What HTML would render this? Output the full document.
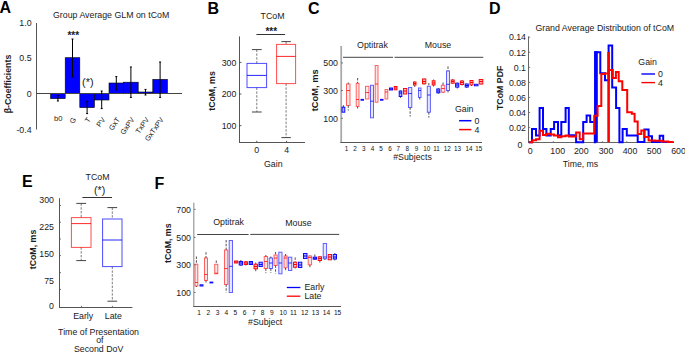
<!DOCTYPE html>
<html><head><meta charset="utf-8"><style>
html,body{margin:0;padding:0;background:#fff;}
svg{display:block;font-family:"Liberation Sans", sans-serif;}
</style></head><body>
<svg width="685" height="352" viewBox="0 0 685 352">
<rect x="0" y="0" width="685" height="352" fill="#fff"/>
<text x="-0.5" y="13.1" font-size="16" text-anchor="start" font-weight="bold" fill="#000" >A</text>
<text x="207.6" y="13.6" font-size="16" text-anchor="start" font-weight="bold" fill="#000" >B</text>
<text x="308.1" y="13.6" font-size="16" text-anchor="start" font-weight="bold" fill="#000" >C</text>
<text x="489.1" y="13.6" font-size="16" text-anchor="start" font-weight="bold" fill="#000" >D</text>
<text x="22" y="187.2" font-size="16" text-anchor="start" font-weight="bold" fill="#000" >E</text>
<text x="154.6" y="189.4" font-size="16" text-anchor="start" font-weight="bold" fill="#000" >F</text>
<text x="53" y="17.6" font-size="8.8" text-anchor="start" font-weight="normal" fill="#1a1a1a" >Group Average GLM on tCoM</text>
<line x1="36.5" y1="23" x2="36.5" y2="129.5" stroke="#555" stroke-width="1" />
<text x="31.6" y="26.4" font-size="8.8" text-anchor="end" font-weight="normal" fill="#1a1a1a" >1.0</text>
<text x="31.6" y="60.900000000000006" font-size="8.8" text-anchor="end" font-weight="normal" fill="#1a1a1a" >0.5</text>
<text x="31.6" y="97.2" font-size="8.8" text-anchor="end" font-weight="normal" fill="#1a1a1a" >0</text>
<text x="31.6" y="132.79999999999998" font-size="8.8" text-anchor="end" font-weight="normal" fill="#1a1a1a" >-0.4</text>
<text x="0" y="0" font-size="8.8" text-anchor="middle" font-weight="bold" fill="#1a1a1a" transform="translate(10.8,84) rotate(-90)">&#946;-Coefficients</text>
<rect x="50.6" y="93.5" width="14.600000000000001" height="5.099999999999994" fill="#0000ff" stroke="#000" stroke-width="0.6" />
<rect x="65.2" y="57.7" width="14.599999999999994" height="35.8" fill="#0000ff" stroke="#000" stroke-width="0.6" />
<rect x="79.8" y="93.5" width="14.600000000000009" height="14.099999999999994" fill="#0000ff" stroke="#000" stroke-width="0.6" />
<rect x="94.4" y="93.5" width="14.599999999999994" height="6.5" fill="#0000ff" stroke="#000" stroke-width="0.6" />
<rect x="109.0" y="83" width="14.599999999999994" height="10.5" fill="#0000ff" stroke="#000" stroke-width="0.6" />
<rect x="123.6" y="82.2" width="14.599999999999994" height="11.299999999999997" fill="#0000ff" stroke="#000" stroke-width="0.6" />
<rect x="138.2" y="92" width="14.600000000000023" height="1.5" fill="#0000ff" stroke="#000" stroke-width="0.6" />
<rect x="152.8" y="79.4" width="14.599999999999994" height="14.099999999999994" fill="#0000ff" stroke="#000" stroke-width="0.6" />
<line x1="36.5" y1="93.5" x2="182" y2="93.5" stroke="#444" stroke-width="1" />
<line x1="57.900000000000006" y1="95.6" x2="57.900000000000006" y2="101" stroke="#000" stroke-width="1" />
<line x1="56.900000000000006" y1="95.6" x2="58.900000000000006" y2="95.6" stroke="#000" stroke-width="1" />
<line x1="56.900000000000006" y1="101" x2="58.900000000000006" y2="101" stroke="#000" stroke-width="1" />
<line x1="72.5" y1="39" x2="72.5" y2="77" stroke="#000" stroke-width="1" />
<line x1="71.5" y1="39" x2="73.5" y2="39" stroke="#000" stroke-width="1" />
<line x1="71.5" y1="77" x2="73.5" y2="77" stroke="#000" stroke-width="1" />
<line x1="87.1" y1="101.4" x2="87.1" y2="113.6" stroke="#000" stroke-width="1" />
<line x1="86.1" y1="101.4" x2="88.1" y2="101.4" stroke="#000" stroke-width="1" />
<line x1="86.1" y1="113.6" x2="88.1" y2="113.6" stroke="#000" stroke-width="1" />
<line x1="101.7" y1="91" x2="101.7" y2="108.6" stroke="#000" stroke-width="1" />
<line x1="100.7" y1="91" x2="102.7" y2="91" stroke="#000" stroke-width="1" />
<line x1="100.7" y1="108.6" x2="102.7" y2="108.6" stroke="#000" stroke-width="1" />
<line x1="116.3" y1="76.6" x2="116.3" y2="90" stroke="#000" stroke-width="1" />
<line x1="115.3" y1="76.6" x2="117.3" y2="76.6" stroke="#000" stroke-width="1" />
<line x1="115.3" y1="90" x2="117.3" y2="90" stroke="#000" stroke-width="1" />
<line x1="130.89999999999998" y1="67" x2="130.89999999999998" y2="97.4" stroke="#000" stroke-width="1" />
<line x1="129.89999999999998" y1="67" x2="131.89999999999998" y2="67" stroke="#000" stroke-width="1" />
<line x1="129.89999999999998" y1="97.4" x2="131.89999999999998" y2="97.4" stroke="#000" stroke-width="1" />
<line x1="145.5" y1="89.4" x2="145.5" y2="95" stroke="#000" stroke-width="1" />
<line x1="144.5" y1="89.4" x2="146.5" y2="89.4" stroke="#000" stroke-width="1" />
<line x1="144.5" y1="95" x2="146.5" y2="95" stroke="#000" stroke-width="1" />
<line x1="160.10000000000002" y1="62" x2="160.10000000000002" y2="97.4" stroke="#000" stroke-width="1" />
<line x1="159.10000000000002" y1="62" x2="161.10000000000002" y2="62" stroke="#000" stroke-width="1" />
<line x1="159.10000000000002" y1="97.4" x2="161.10000000000002" y2="97.4" stroke="#000" stroke-width="1" />
<text x="73.3" y="39.2" font-size="10" text-anchor="middle" font-weight="bold" fill="#1a1a1a" >***</text>
<text x="87.8" y="85.8" font-size="10.8" text-anchor="middle" font-weight="normal" fill="#1a1a1a" >(*)</text>
<text x="54" y="121" font-size="7.6" text-anchor="start" font-weight="normal" fill="#1a1a1a" >b0</text>
<text x="76.5" y="119.6" font-size="7.3" text-anchor="end" font-weight="normal" fill="#1a1a1a" transform="rotate(-55 76.5 119.6)">G</text>
<text x="91.1" y="119.6" font-size="7.3" text-anchor="end" font-weight="normal" fill="#1a1a1a" transform="rotate(-55 91.1 119.6)">T</text>
<text x="105.7" y="119.6" font-size="7.3" text-anchor="end" font-weight="normal" fill="#1a1a1a" transform="rotate(-55 105.7 119.6)">PV</text>
<text x="120.3" y="119.6" font-size="7.3" text-anchor="end" font-weight="normal" fill="#1a1a1a" transform="rotate(-55 120.3 119.6)">GxT</text>
<text x="134.89999999999998" y="119.6" font-size="7.3" text-anchor="end" font-weight="normal" fill="#1a1a1a" transform="rotate(-55 134.89999999999998 119.6)">GxPV</text>
<text x="149.5" y="119.6" font-size="7.3" text-anchor="end" font-weight="normal" fill="#1a1a1a" transform="rotate(-55 149.5 119.6)">TxPV</text>
<text x="164.10000000000002" y="119.6" font-size="7.3" text-anchor="end" font-weight="normal" fill="#1a1a1a" transform="rotate(-55 164.10000000000002 119.6)">GxTxPV</text>
<text x="272.6" y="19.2" font-size="8.8" text-anchor="middle" font-weight="normal" fill="#1a1a1a" >TCoM</text>
<text x="271.3" y="35.0" font-size="10" text-anchor="middle" font-weight="bold" fill="#1a1a1a" >***</text>
<line x1="256.4" y1="34.5" x2="285.1" y2="34.5" stroke="#333" stroke-width="1" />
<line x1="239.5" y1="36.4" x2="239.5" y2="142.5" stroke="#555" stroke-width="1" />
<line x1="239" y1="142.5" x2="305" y2="142.5" stroke="#555" stroke-width="1" />
<text x="236.4" y="65.6" font-size="8.8" text-anchor="end" font-weight="normal" fill="#1a1a1a" >300</text>
<line x1="239.6" y1="62.4" x2="241.4" y2="62.4" stroke="#555" stroke-width="1" />
<text x="236.4" y="97.2" font-size="8.8" text-anchor="end" font-weight="normal" fill="#1a1a1a" >200</text>
<line x1="239.6" y1="94.0" x2="241.4" y2="94.0" stroke="#555" stroke-width="1" />
<text x="236.4" y="128.79999999999998" font-size="8.8" text-anchor="end" font-weight="normal" fill="#1a1a1a" >100</text>
<line x1="239.6" y1="125.6" x2="241.4" y2="125.6" stroke="#555" stroke-width="1" />
<line x1="256.8" y1="142.6" x2="256.8" y2="140.8" stroke="#555" stroke-width="1" />
<line x1="286.6" y1="142.6" x2="286.6" y2="140.8" stroke="#555" stroke-width="1" />
<text x="256.8" y="153.3" font-size="8.8" text-anchor="middle" font-weight="normal" fill="#1a1a1a" >0</text>
<text x="286.6" y="153.3" font-size="8.8" text-anchor="middle" font-weight="normal" fill="#1a1a1a" >4</text>
<text x="273.3" y="167" font-size="8.8" text-anchor="middle" font-weight="normal" fill="#1a1a1a" >Gain</text>
<text x="0" y="0" font-size="8.8" text-anchor="middle" font-weight="bold" fill="#1a1a1a" transform="translate(215,91) rotate(-90)">tCoM, ms</text>
<line x1="256.8" y1="49.6" x2="256.8" y2="63.4" stroke="#444" stroke-width="0.7" stroke-dasharray="2.4,1.4"/>
<line x1="251.9" y1="49.6" x2="261.70000000000005" y2="49.6" stroke="#444" stroke-width="1" />
<line x1="256.8" y1="87.6" x2="256.8" y2="112" stroke="#444" stroke-width="0.7" stroke-dasharray="2.4,1.4"/>
<line x1="251.9" y1="112" x2="261.70000000000005" y2="112" stroke="#444" stroke-width="1" />
<rect x="247" y="63.4" width="19.600000000000023" height="24.199999999999996" fill="none" stroke="#0000ff" stroke-width="1" stroke-opacity="0.7"/>
<line x1="247" y1="75.4" x2="266.6" y2="75.4" stroke="#0000ff" stroke-width="1" stroke-opacity="0.85"/>
<line x1="286.1" y1="41.6" x2="286.1" y2="44.4" stroke="#444" stroke-width="0.7" stroke-dasharray="2.4,1.4"/>
<line x1="281.35" y1="41.6" x2="290.85" y2="41.6" stroke="#444" stroke-width="1" />
<line x1="286.1" y1="83.6" x2="286.1" y2="137.6" stroke="#444" stroke-width="0.7" stroke-dasharray="2.4,1.4"/>
<line x1="281.35" y1="137.6" x2="290.85" y2="137.6" stroke="#444" stroke-width="1" />
<rect x="276.6" y="44.4" width="19.0" height="39.199999999999996" fill="none" stroke="#ff0000" stroke-width="1" stroke-opacity="0.7"/>
<line x1="276.6" y1="56.4" x2="295.6" y2="56.4" stroke="#ff0000" stroke-width="1" stroke-opacity="0.85"/>
<text x="0" y="0" font-size="9.3" text-anchor="middle" font-weight="bold" fill="#1a1a1a" transform="translate(318.4,90.3) rotate(-90)">tCoM, ms</text>
<line x1="341.2" y1="46" x2="341.2" y2="142.3" stroke="#aaa" stroke-width="1.8" />
<line x1="340.3" y1="142.5" x2="482" y2="142.5" stroke="#555" stroke-width="1" />
<text x="338" y="66.1" font-size="8.8" text-anchor="end" font-weight="normal" fill="#1a1a1a" >500</text>
<line x1="341.2" y1="62.9" x2="343" y2="62.9" stroke="#555" stroke-width="0.8" />
<text x="338" y="93.7" font-size="8.8" text-anchor="end" font-weight="normal" fill="#1a1a1a" >300</text>
<line x1="341.2" y1="90.5" x2="343" y2="90.5" stroke="#555" stroke-width="0.8" />
<text x="338" y="121.5" font-size="8.8" text-anchor="end" font-weight="normal" fill="#1a1a1a" >100</text>
<line x1="341.2" y1="118.3" x2="343" y2="118.3" stroke="#555" stroke-width="0.8" />
<text x="372.5" y="48.2" font-size="8.8" text-anchor="middle" font-weight="normal" fill="#1a1a1a" >Optitrak</text>
<text x="438" y="48" font-size="8.8" text-anchor="middle" font-weight="normal" fill="#1a1a1a" >Mouse</text>
<line x1="343" y1="57.3" x2="393" y2="57.3" stroke="#444" stroke-width="1" />
<line x1="394.5" y1="57.3" x2="483.3" y2="57.3" stroke="#444" stroke-width="1" />
<text x="346.5" y="150.5" font-size="6.3" text-anchor="middle" font-weight="normal" fill="#111" >1</text>
<text x="355.1" y="150.5" font-size="6.3" text-anchor="middle" font-weight="normal" fill="#111" >2</text>
<text x="363.8" y="150.5" font-size="6.3" text-anchor="middle" font-weight="normal" fill="#111" >3</text>
<text x="372.4" y="150.5" font-size="6.3" text-anchor="middle" font-weight="normal" fill="#111" >4</text>
<text x="381" y="150.5" font-size="6.3" text-anchor="middle" font-weight="normal" fill="#111" >5</text>
<text x="389.9" y="150.5" font-size="6.3" text-anchor="middle" font-weight="normal" fill="#111" >6</text>
<text x="398.3" y="150.5" font-size="6.3" text-anchor="middle" font-weight="normal" fill="#111" >7</text>
<text x="407.2" y="150.5" font-size="6.3" text-anchor="middle" font-weight="normal" fill="#111" >8</text>
<text x="416.5" y="150.5" font-size="6.3" text-anchor="middle" font-weight="normal" fill="#111" >9</text>
<text x="426.7" y="150.5" font-size="6.3" text-anchor="middle" font-weight="normal" fill="#111" >10</text>
<text x="436.5" y="150.5" font-size="6.3" text-anchor="middle" font-weight="normal" fill="#111" >11</text>
<text x="447.3" y="150.5" font-size="6.3" text-anchor="middle" font-weight="normal" fill="#111" >12</text>
<text x="457.5" y="150.5" font-size="6.3" text-anchor="middle" font-weight="normal" fill="#111" >13</text>
<text x="468.9" y="150.5" font-size="6.3" text-anchor="middle" font-weight="normal" fill="#111" >14</text>
<text x="478.8" y="150.5" font-size="6.3" text-anchor="middle" font-weight="normal" fill="#111" >15</text>
<text x="412.5" y="159.8" font-size="8.8" text-anchor="middle" font-weight="normal" fill="#1a1a1a" >#Subjects</text>
<text x="464.2" y="111.8" font-size="8.8" text-anchor="middle" font-weight="normal" fill="#1a1a1a" >Gain</text>
<line x1="459.1" y1="120.7" x2="471.4" y2="120.7" stroke="#0000ff" stroke-width="1.5" />
<line x1="459.1" y1="129.6" x2="471.4" y2="129.6" stroke="#ff0000" stroke-width="1.5" />
<text x="474.6" y="123.6" font-size="8.8" text-anchor="start" font-weight="normal" fill="#1a1a1a" >0</text>
<text x="474.6" y="132.5" font-size="8.8" text-anchor="start" font-weight="normal" fill="#1a1a1a" >4</text>
<line x1="343.4" y1="105.2" x2="343.4" y2="107.2" stroke="#222" stroke-width="0.8" stroke-dasharray="2.4,1.4"/>
<rect x="342" y="107.2" width="2.8000000000000114" height="5.0" fill="#0000ff" stroke="#0000ff" stroke-width="1" stroke-opacity="0.95" fill-opacity="0.3"/>
<line x1="348.25" y1="82.5" x2="348.25" y2="84" stroke="#222" stroke-width="0.8" stroke-dasharray="2.4,1.4"/>
<line x1="348.25" y1="105.5" x2="348.25" y2="110.5" stroke="#222" stroke-width="0.8" stroke-dasharray="2.4,1.4"/>
<rect x="346.5" y="84" width="3.5" height="21.5" fill="#ff0000" stroke="#ff0000" stroke-width="1" stroke-opacity="0.6" fill-opacity="0.1"/>
<line x1="346.5" y1="90.5" x2="350" y2="90.5" stroke="#ff0000" stroke-width="1" stroke-opacity="0.75"/>
<rect x="361" y="99.4" width="2.5" height="0.7999999999999972" fill="#0000ff" stroke="#0000ff" stroke-width="1" stroke-opacity="0.95" fill-opacity="0.3"/>
<line x1="357.6" y1="78" x2="357.6" y2="83.3" stroke="#222" stroke-width="0.8" stroke-dasharray="2.4,1.4"/>
<line x1="357.6" y1="106.5" x2="357.6" y2="108.5" stroke="#222" stroke-width="0.8" stroke-dasharray="2.4,1.4"/>
<rect x="356.2" y="83.3" width="2.8000000000000114" height="23.200000000000003" fill="#ff0000" stroke="#ff0000" stroke-width="1" stroke-opacity="0.6" fill-opacity="0.1"/>
<line x1="356.2" y1="99.5" x2="359" y2="99.5" stroke="#ff0000" stroke-width="1" stroke-opacity="0.75"/>
<rect x="365.5" y="86.3" width="3.5" height="12.700000000000003" fill="#ff0000" stroke="#ff0000" stroke-width="1" stroke-opacity="0.6" fill-opacity="0.1"/>
<line x1="365.5" y1="92.5" x2="369" y2="92.5" stroke="#ff0000" stroke-width="1" stroke-opacity="0.75"/>
<rect x="370.5" y="85.3" width="3.0" height="32.5" fill="#0000ff" stroke="#0000ff" stroke-width="1" stroke-opacity="0.6" fill-opacity="0.1"/>
<line x1="370.5" y1="101.2" x2="373.5" y2="101.2" stroke="#0000ff" stroke-width="1" stroke-opacity="0.75"/>
<rect x="375.2" y="65.5" width="2.8000000000000114" height="36.7" fill="#ff0000" stroke="#ff0000" stroke-width="1" stroke-opacity="0.6" fill-opacity="0.1"/>
<line x1="375.2" y1="84" x2="378" y2="84" stroke="#ff0000" stroke-width="1" stroke-opacity="0.75"/>
<rect x="380.5" y="99.4" width="2.5" height="0.7999999999999972" fill="#0000ff" stroke="#0000ff" stroke-width="1" stroke-opacity="0.95" fill-opacity="0.3"/>
<rect x="385" y="89.5" width="2.8000000000000114" height="9.5" fill="#ff0000" stroke="#ff0000" stroke-width="1" stroke-opacity="0.6" fill-opacity="0.1"/>
<line x1="385" y1="92" x2="387.8" y2="92" stroke="#ff0000" stroke-width="1" stroke-opacity="0.75"/>
<rect x="389.5" y="88" width="3.0" height="2" fill="#0000ff" stroke="#0000ff" stroke-width="1" stroke-opacity="0.95" fill-opacity="0.3"/>
<line x1="389.5" y1="89" x2="392.5" y2="89" stroke="#0000ff" stroke-width="1" stroke-opacity="1"/>
<rect x="394.2" y="86.5" width="2.8000000000000114" height="3.299999999999997" fill="#ff0000" stroke="#ff0000" stroke-width="1" stroke-opacity="0.95" fill-opacity="0.3"/>
<line x1="394.2" y1="88" x2="397" y2="88" stroke="#ff0000" stroke-width="1" stroke-opacity="1"/>
<line x1="400.5" y1="90.5" x2="400.5" y2="91" stroke="#222" stroke-width="0.8" stroke-dasharray="2.4,1.4"/>
<line x1="400.5" y1="96.5" x2="400.5" y2="97.8" stroke="#222" stroke-width="0.8" stroke-dasharray="2.4,1.4"/>
<rect x="399.2" y="91" width="2.6000000000000227" height="5.5" fill="#0000ff" stroke="#0000ff" stroke-width="1" stroke-opacity="0.95" fill-opacity="0.3"/>
<line x1="399.2" y1="93" x2="401.8" y2="93" stroke="#0000ff" stroke-width="1" stroke-opacity="1"/>
<rect x="403.5" y="88.5" width="3.3000000000000114" height="5.5" fill="#ff0000" stroke="#ff0000" stroke-width="1" stroke-opacity="0.95" fill-opacity="0.3"/>
<line x1="403.5" y1="91" x2="406.8" y2="91" stroke="#ff0000" stroke-width="1" stroke-opacity="1"/>
<line x1="410.15" y1="107.5" x2="410.15" y2="116.5" stroke="#222" stroke-width="0.8" stroke-dasharray="2.4,1.4"/>
<rect x="408.5" y="87.5" width="3.3000000000000114" height="20.0" fill="#0000ff" stroke="#0000ff" stroke-width="1" stroke-opacity="0.6" fill-opacity="0.1"/>
<line x1="408.5" y1="93.5" x2="411.8" y2="93.5" stroke="#0000ff" stroke-width="1" stroke-opacity="0.75"/>
<line x1="414.75" y1="81.5" x2="414.75" y2="82" stroke="#222" stroke-width="0.8" stroke-dasharray="2.4,1.4"/>
<line x1="414.75" y1="85" x2="414.75" y2="87" stroke="#222" stroke-width="0.8" stroke-dasharray="2.4,1.4"/>
<rect x="413.5" y="82" width="2.5" height="3" fill="#ff0000" stroke="#ff0000" stroke-width="1" stroke-opacity="0.95" fill-opacity="0.3"/>
<line x1="413.5" y1="83.5" x2="416" y2="83.5" stroke="#ff0000" stroke-width="1" stroke-opacity="1"/>
<line x1="419.75" y1="97.5" x2="419.75" y2="99.5" stroke="#222" stroke-width="0.8" stroke-dasharray="2.4,1.4"/>
<rect x="418.5" y="88" width="2.5" height="9.5" fill="#0000ff" stroke="#0000ff" stroke-width="1" stroke-opacity="0.6" fill-opacity="0.1"/>
<line x1="418.5" y1="90.5" x2="421" y2="90.5" stroke="#0000ff" stroke-width="1" stroke-opacity="0.75"/>
<line x1="424.15" y1="78.5" x2="424.15" y2="79" stroke="#222" stroke-width="0.8" stroke-dasharray="2.4,1.4"/>
<line x1="424.15" y1="83.8" x2="424.15" y2="84.5" stroke="#222" stroke-width="0.8" stroke-dasharray="2.4,1.4"/>
<rect x="422.5" y="79" width="3.3000000000000114" height="4.799999999999997" fill="#ff0000" stroke="#ff0000" stroke-width="1" stroke-opacity="0.95" fill-opacity="0.3"/>
<line x1="422.5" y1="81.5" x2="425.8" y2="81.5" stroke="#ff0000" stroke-width="1" stroke-opacity="1"/>
<line x1="428.85" y1="83" x2="428.85" y2="86.3" stroke="#222" stroke-width="0.8" stroke-dasharray="2.4,1.4"/>
<line x1="428.85" y1="112.2" x2="428.85" y2="117.5" stroke="#222" stroke-width="0.8" stroke-dasharray="2.4,1.4"/>
<rect x="427.3" y="86.3" width="3.099999999999966" height="25.900000000000006" fill="#0000ff" stroke="#0000ff" stroke-width="1" stroke-opacity="0.6" fill-opacity="0.1"/>
<line x1="427.3" y1="95" x2="430.4" y2="95" stroke="#0000ff" stroke-width="1" stroke-opacity="0.75"/>
<line x1="433.6" y1="79.5" x2="433.6" y2="80.8" stroke="#222" stroke-width="0.8" stroke-dasharray="2.4,1.4"/>
<line x1="433.6" y1="85" x2="433.6" y2="86.5" stroke="#222" stroke-width="0.8" stroke-dasharray="2.4,1.4"/>
<rect x="432.2" y="80.8" width="2.8000000000000114" height="4.200000000000003" fill="#ff0000" stroke="#ff0000" stroke-width="1" stroke-opacity="0.95" fill-opacity="0.3"/>
<line x1="432.2" y1="83" x2="435" y2="83" stroke="#ff0000" stroke-width="1" stroke-opacity="1"/>
<line x1="438.3" y1="88" x2="438.3" y2="89" stroke="#222" stroke-width="0.8" stroke-dasharray="2.4,1.4"/>
<line x1="438.3" y1="92.8" x2="438.3" y2="93.8" stroke="#222" stroke-width="0.8" stroke-dasharray="2.4,1.4"/>
<rect x="436.8" y="89" width="3.0" height="3.799999999999997" fill="#0000ff" stroke="#0000ff" stroke-width="1" stroke-opacity="0.95" fill-opacity="0.3"/>
<line x1="436.8" y1="91" x2="439.8" y2="91" stroke="#0000ff" stroke-width="1" stroke-opacity="1"/>
<line x1="443.05" y1="82.5" x2="443.05" y2="85.3" stroke="#222" stroke-width="0.8" stroke-dasharray="2.4,1.4"/>
<line x1="443.05" y1="92.2" x2="443.05" y2="92.8" stroke="#222" stroke-width="0.8" stroke-dasharray="2.4,1.4"/>
<rect x="441.3" y="85.3" width="3.5" height="6.900000000000006" fill="#ff0000" stroke="#ff0000" stroke-width="1" stroke-opacity="0.6" fill-opacity="0.1"/>
<line x1="441.3" y1="88.5" x2="444.8" y2="88.5" stroke="#ff0000" stroke-width="1" stroke-opacity="0.75"/>
<line x1="448.0" y1="66.5" x2="448.0" y2="71" stroke="#222" stroke-width="0.8" stroke-dasharray="2.4,1.4"/>
<line x1="448.0" y1="90.5" x2="448.0" y2="92.5" stroke="#222" stroke-width="0.8" stroke-dasharray="2.4,1.4"/>
<rect x="446.5" y="71" width="3.0" height="19.5" fill="#0000ff" stroke="#0000ff" stroke-width="1" stroke-opacity="0.6" fill-opacity="0.1"/>
<line x1="446.5" y1="84.3" x2="449.5" y2="84.3" stroke="#0000ff" stroke-width="1" stroke-opacity="0.75"/>
<line x1="452.7" y1="79" x2="452.7" y2="80" stroke="#222" stroke-width="0.8" stroke-dasharray="2.4,1.4"/>
<line x1="452.7" y1="83.2" x2="452.7" y2="83.8" stroke="#222" stroke-width="0.8" stroke-dasharray="2.4,1.4"/>
<rect x="451.2" y="80" width="3.0" height="3.200000000000003" fill="#ff0000" stroke="#ff0000" stroke-width="1" stroke-opacity="0.95" fill-opacity="0.3"/>
<line x1="451.2" y1="81.5" x2="454.2" y2="81.5" stroke="#ff0000" stroke-width="1" stroke-opacity="1"/>
<line x1="457.20000000000005" y1="82.5" x2="457.20000000000005" y2="83.2" stroke="#222" stroke-width="0.8" stroke-dasharray="2.4,1.4"/>
<line x1="457.20000000000005" y1="87.1" x2="457.20000000000005" y2="88.5" stroke="#222" stroke-width="0.8" stroke-dasharray="2.4,1.4"/>
<rect x="455.6" y="83.2" width="3.1999999999999886" height="3.8999999999999915" fill="#0000ff" stroke="#0000ff" stroke-width="1" stroke-opacity="0.95" fill-opacity="0.3"/>
<line x1="455.6" y1="85" x2="458.8" y2="85" stroke="#0000ff" stroke-width="1" stroke-opacity="1"/>
<line x1="462.0" y1="80" x2="462.0" y2="81" stroke="#222" stroke-width="0.8" stroke-dasharray="2.4,1.4"/>
<line x1="462.0" y1="84.5" x2="462.0" y2="85.5" stroke="#222" stroke-width="0.8" stroke-dasharray="2.4,1.4"/>
<rect x="460.4" y="81" width="3.2000000000000455" height="3.5" fill="#ff0000" stroke="#ff0000" stroke-width="1" stroke-opacity="0.95" fill-opacity="0.3"/>
<line x1="460.4" y1="82.5" x2="463.6" y2="82.5" stroke="#ff0000" stroke-width="1" stroke-opacity="1"/>
<line x1="466.75" y1="83.5" x2="466.75" y2="84" stroke="#222" stroke-width="0.8" stroke-dasharray="2.4,1.4"/>
<line x1="466.75" y1="87" x2="466.75" y2="88" stroke="#222" stroke-width="0.8" stroke-dasharray="2.4,1.4"/>
<rect x="465.2" y="84" width="3.1000000000000227" height="3" fill="#0000ff" stroke="#0000ff" stroke-width="1" stroke-opacity="0.95" fill-opacity="0.3"/>
<line x1="465.2" y1="85.5" x2="468.3" y2="85.5" stroke="#0000ff" stroke-width="1" stroke-opacity="1"/>
<line x1="471.5" y1="80" x2="471.5" y2="80.5" stroke="#222" stroke-width="0.8" stroke-dasharray="2.4,1.4"/>
<line x1="471.5" y1="85" x2="471.5" y2="86" stroke="#222" stroke-width="0.8" stroke-dasharray="2.4,1.4"/>
<rect x="470" y="80.5" width="3" height="4.5" fill="#ff0000" stroke="#ff0000" stroke-width="1" stroke-opacity="0.95" fill-opacity="0.3"/>
<line x1="470" y1="82.5" x2="473" y2="82.5" stroke="#ff0000" stroke-width="1" stroke-opacity="1"/>
<rect x="474.5" y="84.3" width="3.5" height="1.5" fill="#0000ff" stroke="#0000ff" stroke-width="1" stroke-opacity="0.95" fill-opacity="0.3"/>
<line x1="481.0" y1="79" x2="481.0" y2="79.5" stroke="#222" stroke-width="0.8" stroke-dasharray="2.4,1.4"/>
<line x1="481.0" y1="84" x2="481.0" y2="84.5" stroke="#222" stroke-width="0.8" stroke-dasharray="2.4,1.4"/>
<rect x="479.2" y="79.5" width="3.6000000000000227" height="4.5" fill="#ff0000" stroke="#ff0000" stroke-width="1" stroke-opacity="0.95" fill-opacity="0.3"/>
<line x1="479.2" y1="81.5" x2="482.8" y2="81.5" stroke="#ff0000" stroke-width="1" stroke-opacity="1"/>
<text x="604.8" y="31" font-size="8.8" text-anchor="middle" font-weight="normal" fill="#1a1a1a" >Grand Average Distribution of tCoM</text>
<text x="0" y="0" font-size="8.8" text-anchor="middle" font-weight="bold" fill="#1a1a1a" transform="translate(503.2,87.8) rotate(-90)">TCoM PDF</text>
<line x1="528.5" y1="36.4" x2="528.5" y2="142.5" stroke="#666" stroke-width="1" />
<line x1="528" y1="142.5" x2="674" y2="142.5" stroke="#666" stroke-width="1" />
<text x="522.4" y="148.4" font-size="8.8" text-anchor="end" font-weight="normal" fill="#1a1a1a" >0</text>
<text x="526" y="130.75" font-size="8.8" text-anchor="end" font-weight="normal" fill="#1a1a1a" >0.02</text>
<line x1="528.8" y1="127.55" x2="530.2" y2="127.55" stroke="#666" stroke-width="0.8" />
<text x="526" y="115.7" font-size="8.8" text-anchor="end" font-weight="normal" fill="#1a1a1a" >0.04</text>
<line x1="528.8" y1="112.5" x2="530.2" y2="112.5" stroke="#666" stroke-width="0.8" />
<text x="526" y="100.64999999999999" font-size="8.8" text-anchor="end" font-weight="normal" fill="#1a1a1a" >0.06</text>
<line x1="528.8" y1="97.44999999999999" x2="530.2" y2="97.44999999999999" stroke="#666" stroke-width="0.8" />
<text x="526" y="85.6" font-size="8.8" text-anchor="end" font-weight="normal" fill="#1a1a1a" >0.08</text>
<line x1="528.8" y1="82.39999999999999" x2="530.2" y2="82.39999999999999" stroke="#666" stroke-width="0.8" />
<text x="526" y="70.55" font-size="8.8" text-anchor="end" font-weight="normal" fill="#1a1a1a" >0.1</text>
<line x1="528.8" y1="67.35" x2="530.2" y2="67.35" stroke="#666" stroke-width="0.8" />
<text x="526" y="55.499999999999986" font-size="8.8" text-anchor="end" font-weight="normal" fill="#1a1a1a" >0.12</text>
<line x1="528.8" y1="52.29999999999998" x2="530.2" y2="52.29999999999998" stroke="#666" stroke-width="0.8" />
<text x="526" y="40.44999999999999" font-size="8.8" text-anchor="end" font-weight="normal" fill="#1a1a1a" >0.14</text>
<line x1="528.8" y1="37.249999999999986" x2="530.2" y2="37.249999999999986" stroke="#666" stroke-width="0.8" />
<text x="530.2" y="154.3" font-size="8.8" text-anchor="middle" font-weight="normal" fill="#1a1a1a" >0</text>
<text x="557.7" y="154.3" font-size="8.8" text-anchor="middle" font-weight="normal" fill="#1a1a1a" >100</text>
<text x="581.3" y="154.3" font-size="8.8" text-anchor="middle" font-weight="normal" fill="#1a1a1a" >200</text>
<text x="606" y="154.3" font-size="8.8" text-anchor="middle" font-weight="normal" fill="#1a1a1a" >300</text>
<text x="630" y="154.3" font-size="8.8" text-anchor="middle" font-weight="normal" fill="#1a1a1a" >400</text>
<text x="654.1" y="154.3" font-size="8.8" text-anchor="middle" font-weight="normal" fill="#1a1a1a" >500</text>
<text x="678.5" y="154.3" font-size="8.8" text-anchor="middle" font-weight="normal" fill="#1a1a1a" >600</text>
<line x1="553.3" y1="142.5" x2="553.3" y2="141" stroke="#666" stroke-width="0.8" />
<line x1="577.8" y1="142.5" x2="577.8" y2="141" stroke="#666" stroke-width="0.8" />
<line x1="602.3" y1="142.5" x2="602.3" y2="141" stroke="#666" stroke-width="0.8" />
<line x1="626.8" y1="142.5" x2="626.8" y2="141" stroke="#666" stroke-width="0.8" />
<line x1="651.3" y1="142.5" x2="651.3" y2="141" stroke="#666" stroke-width="0.8" />
<polyline points="528.8,142.3 532,142.3 532,129 536,129 536,135.4 539.6,135.4 539.6,108 543,108 543,129 546.4,129 546.4,135.4 550.7,135.4 550.7,129 554.1,129 554.1,122 558,122 558,135.3 561.3,135.3 561.3,122 565.6,122 565.6,108 568.8,108 568.8,135.3 576.1,135.3 576.1,142.3 583.2,142.3 583.2,122 586.6,122 586.6,115.5 590.2,115.5 590.2,122 594.8,122 594.8,142.3 595.2,142.3 595.2,52.2 600.3,52.2 600.3,73.3 605,73.3 605,80.3 608.6,80.3 608.6,45.6 612.2,45.6 612.2,87.4 616.1,87.4 616.1,108.1 619.4,108.1 619.4,142.3 622.6,142.3 622.6,129 626.8,129 626.8,135.6 637.7,135.6 637.7,142 644.4,142 644.4,129.4 648.6,129.4 648.6,136.3 652,136.3 652,142 659.7,142 659.7,135.8 663.2,135.8 663.2,142 673.4,142" fill="none" stroke="#0000ff" stroke-width="2" stroke-linejoin="miter"/>
<rect x="594.2" y="51.2" width="3.6" height="91.1" fill="#0000ff" stroke="none" stroke-width="1" />
<polyline points="528.8,142.3 532.4,142.3 532.4,140.3 536,140.3 536,139.3 539.6,139.3 539.6,130.8 543,130.8 543,135 546.4,135 546.4,133.7 550,133.7 550,134.5 554,134.5 554,135.5 558,135.5 558,137.3 561.3,137.3 561.3,136.3 565.6,136.3 565.6,135.5 568.8,135.5 568.8,136.5 576.1,136.5 576.1,132.5 579.7,132.5 579.7,139.2 583.2,139.2 583.2,133.4 594.2,133.4 594.2,115.8 597.6,115.8 597.6,106.1 601.3,106.1 601.3,74.1 604.8,74.1 604.8,73.4 608.6,73.4 608.6,69.9 612.8,69.9 612.8,78 615.9,78 615.9,72 618.7,72 618.7,81.2 622.3,81.2 622.3,89.9 627.2,89.9 627.2,112.3 631.8,112.3 631.8,113.8 634.6,113.8 634.6,121.5 637.7,121.5 637.7,134 641.3,134 641.3,130.5 644.3,130.5 644.3,137 648.6,137 648.6,140.4 655,140.4 655,140.8 662,140.8 662,141.4 668,141.4 668,142 673.4,142" fill="none" stroke="#ff0000" stroke-width="2" stroke-linejoin="miter"/>
<line x1="608.6" y1="52.1" x2="608.6" y2="142.3" stroke="#ff0000" stroke-width="2.6" />
<text x="562.8" y="166.6" font-size="8.7" text-anchor="start" font-weight="normal" fill="#1a1a1a" >Time, ms</text>
<text x="647.6" y="65" font-size="8.8" text-anchor="middle" font-weight="normal" fill="#1a1a1a" >Gain</text>
<line x1="641.4" y1="74" x2="655" y2="74" stroke="#0000ff" stroke-width="1.4" />
<line x1="641.4" y1="82.6" x2="655" y2="82.6" stroke="#ff0000" stroke-width="1.4" />
<text x="658" y="77.2" font-size="8.8" text-anchor="start" font-weight="normal" fill="#1a1a1a" >0</text>
<text x="658" y="85.6" font-size="8.8" text-anchor="start" font-weight="normal" fill="#1a1a1a" >4</text>
<text x="97.5" y="180.0" font-size="8.8" text-anchor="middle" font-weight="normal" fill="#1a1a1a" >TCoM</text>
<text x="99.7" y="194.2" font-size="10.6" text-anchor="middle" font-weight="normal" fill="#1a1a1a" >(*)</text>
<line x1="82.4" y1="197.5" x2="112" y2="197.5" stroke="#333" stroke-width="1" />
<line x1="59.5" y1="198.2" x2="59.5" y2="307.5" stroke="#555" stroke-width="1" />
<line x1="59" y1="307.5" x2="132.4" y2="307.5" stroke="#555" stroke-width="1" />
<text x="54" y="203.1" font-size="8.8" text-anchor="end" font-weight="normal" fill="#1a1a1a" >300</text>
<text x="54" y="230.0" font-size="8.8" text-anchor="end" font-weight="normal" fill="#1a1a1a" >225</text>
<text x="54" y="256.7" font-size="8.8" text-anchor="end" font-weight="normal" fill="#1a1a1a" >150</text>
<text x="54" y="283.5" font-size="8.8" text-anchor="end" font-weight="normal" fill="#1a1a1a" >75</text>
<text x="54" y="309.4" font-size="8.8" text-anchor="end" font-weight="normal" fill="#1a1a1a" >0</text>
<line x1="59.5" y1="205.5" x2="61" y2="205.5" stroke="#555" stroke-width="0.8" />
<line x1="59.5" y1="222.3" x2="61" y2="222.3" stroke="#555" stroke-width="0.8" />
<line x1="59.5" y1="239" x2="61" y2="239" stroke="#555" stroke-width="0.8" />
<line x1="59.5" y1="255.6" x2="61" y2="255.6" stroke="#555" stroke-width="0.8" />
<line x1="59.5" y1="272.6" x2="61" y2="272.6" stroke="#555" stroke-width="0.8" />
<line x1="59.5" y1="289.4" x2="61" y2="289.4" stroke="#555" stroke-width="0.8" />
<line x1="81.5" y1="307.3" x2="81.5" y2="305.8" stroke="#555" stroke-width="0.8" />
<line x1="112.4" y1="307.3" x2="112.4" y2="305.8" stroke="#555" stroke-width="0.8" />
<text x="83.2" y="318.8" font-size="8.8" text-anchor="middle" font-weight="normal" fill="#1a1a1a" >Early</text>
<text x="113.4" y="318.8" font-size="8.8" text-anchor="middle" font-weight="normal" fill="#1a1a1a" >Late</text>
<text x="98.5" y="334.5" font-size="8.8" text-anchor="middle" font-weight="normal" fill="#1a1a1a" >Time of Presentation</text>
<text x="99.8" y="342.5" font-size="8.8" text-anchor="middle" font-weight="normal" fill="#1a1a1a" >of</text>
<text x="98.6" y="351.5" font-size="8.8" text-anchor="middle" font-weight="normal" fill="#1a1a1a" >Second DoV</text>
<text x="0" y="0" font-size="8.8" text-anchor="middle" font-weight="bold" fill="#1a1a1a" transform="translate(35.6,249.5) rotate(-90)">tCoM, ms</text>
<line x1="81.2" y1="203.4" x2="81.2" y2="217.6" stroke="#444" stroke-width="0.7" stroke-dasharray="2.4,1.4"/>
<line x1="76.30000000000001" y1="203.4" x2="86.1" y2="203.4" stroke="#444" stroke-width="1" />
<line x1="81.2" y1="247.4" x2="81.2" y2="260.6" stroke="#444" stroke-width="0.7" stroke-dasharray="2.4,1.4"/>
<line x1="76.30000000000001" y1="260.6" x2="86.1" y2="260.6" stroke="#444" stroke-width="1" />
<rect x="71.4" y="217.6" width="19.599999999999994" height="29.80000000000001" fill="none" stroke="#ff0000" stroke-width="1" stroke-opacity="0.7"/>
<line x1="71.4" y1="223.6" x2="91" y2="223.6" stroke="#ff0000" stroke-width="1" stroke-opacity="0.85"/>
<line x1="112.3" y1="207.6" x2="112.3" y2="219" stroke="#444" stroke-width="0.7" stroke-dasharray="2.4,1.4"/>
<line x1="107.44999999999999" y1="207.6" x2="117.15" y2="207.6" stroke="#444" stroke-width="1" />
<line x1="112.3" y1="266.6" x2="112.3" y2="301.2" stroke="#444" stroke-width="0.7" stroke-dasharray="2.4,1.4"/>
<line x1="107.44999999999999" y1="301.2" x2="117.15" y2="301.2" stroke="#444" stroke-width="1" />
<rect x="102.6" y="219" width="19.400000000000006" height="47.60000000000002" fill="none" stroke="#0000ff" stroke-width="1" stroke-opacity="0.7"/>
<line x1="102.6" y1="240" x2="122" y2="240" stroke="#0000ff" stroke-width="1" stroke-opacity="0.85"/>
<line x1="193.8" y1="202.8" x2="193.8" y2="306.6" stroke="#999" stroke-width="1.2" />
<line x1="193.2" y1="306.5" x2="341" y2="306.5" stroke="#555" stroke-width="1" />
<text x="191" y="212.6" font-size="8.8" text-anchor="end" font-weight="normal" fill="#1a1a1a" >700</text>
<line x1="194" y1="209.4" x2="195.6" y2="209.4" stroke="#555" stroke-width="0.8" />
<text x="191" y="240.6" font-size="8.8" text-anchor="end" font-weight="normal" fill="#1a1a1a" >500</text>
<line x1="194" y1="237.4" x2="195.6" y2="237.4" stroke="#555" stroke-width="0.8" />
<text x="191" y="268.09999999999997" font-size="8.8" text-anchor="end" font-weight="normal" fill="#1a1a1a" >300</text>
<line x1="194" y1="264.9" x2="195.6" y2="264.9" stroke="#555" stroke-width="0.8" />
<text x="191" y="295.7" font-size="8.8" text-anchor="end" font-weight="normal" fill="#1a1a1a" >100</text>
<line x1="194" y1="292.5" x2="195.6" y2="292.5" stroke="#555" stroke-width="0.8" />
<text x="0" y="0" font-size="8.8" text-anchor="middle" font-weight="bold" fill="#1a1a1a" transform="translate(171.0,243.2) rotate(-90)">tCoM, ms</text>
<text x="228.6" y="225" font-size="8.8" text-anchor="middle" font-weight="normal" fill="#1a1a1a" >Optitrak</text>
<text x="298.4" y="226" font-size="8.8" text-anchor="middle" font-weight="normal" fill="#1a1a1a" >Mouse</text>
<line x1="197.2" y1="234.5" x2="248.6" y2="234.5" stroke="#444" stroke-width="1" />
<line x1="250.3" y1="234.4" x2="339.2" y2="234.4" stroke="#444" stroke-width="1" />
<text x="199.2" y="315.3" font-size="6.6" text-anchor="middle" font-weight="normal" fill="#111" >1</text>
<text x="208.4" y="315.3" font-size="6.6" text-anchor="middle" font-weight="normal" fill="#111" >2</text>
<text x="217.6" y="315.3" font-size="6.6" text-anchor="middle" font-weight="normal" fill="#111" >3</text>
<text x="226.4" y="315.3" font-size="6.6" text-anchor="middle" font-weight="normal" fill="#111" >4</text>
<text x="235.4" y="315.3" font-size="6.6" text-anchor="middle" font-weight="normal" fill="#111" >5</text>
<text x="244.6" y="315.3" font-size="6.6" text-anchor="middle" font-weight="normal" fill="#111" >6</text>
<text x="253.8" y="315.3" font-size="6.6" text-anchor="middle" font-weight="normal" fill="#111" >7</text>
<text x="262.7" y="315.3" font-size="6.6" text-anchor="middle" font-weight="normal" fill="#111" >8</text>
<text x="271.8" y="315.3" font-size="6.6" text-anchor="middle" font-weight="normal" fill="#111" >9</text>
<text x="283.2" y="315.3" font-size="6.6" text-anchor="middle" font-weight="normal" fill="#111" >10</text>
<text x="293.4" y="315.3" font-size="6.6" text-anchor="middle" font-weight="normal" fill="#111" >11</text>
<text x="304.7" y="315.3" font-size="6.6" text-anchor="middle" font-weight="normal" fill="#111" >12</text>
<text x="315.4" y="315.3" font-size="6.6" text-anchor="middle" font-weight="normal" fill="#111" >13</text>
<text x="326.4" y="315.3" font-size="6.6" text-anchor="middle" font-weight="normal" fill="#111" >14</text>
<text x="337.6" y="315.3" font-size="6.6" text-anchor="middle" font-weight="normal" fill="#111" >15</text>
<text x="265.2" y="324.7" font-size="8.8" text-anchor="middle" font-weight="normal" fill="#1a1a1a" >#Subject</text>
<line x1="286.8" y1="287.5" x2="300.4" y2="287.5" stroke="#0000ff" stroke-width="1.3" />
<line x1="286.8" y1="296.2" x2="300.4" y2="296.2" stroke="#ff0000" stroke-width="1.3" />
<text x="304.4" y="290.2" font-size="8.8" text-anchor="start" font-weight="normal" fill="#1a1a1a" >Early</text>
<text x="304.4" y="299.2" font-size="8.8" text-anchor="start" font-weight="normal" fill="#1a1a1a" >Late</text>
<line x1="196.4" y1="256.5" x2="196.4" y2="264.2" stroke="#222" stroke-width="0.8" stroke-dasharray="2.4,1.4"/>
<line x1="196.4" y1="286" x2="196.4" y2="287" stroke="#222" stroke-width="0.8" stroke-dasharray="2.4,1.4"/>
<rect x="195" y="264.2" width="2.8000000000000114" height="21.80000000000001" fill="#ff0000" stroke="#ff0000" stroke-width="1" stroke-opacity="0.6" fill-opacity="0.1"/>
<line x1="195" y1="282.5" x2="197.8" y2="282.5" stroke="#ff0000" stroke-width="1" stroke-opacity="0.75"/>
<rect x="200" y="284.8" width="3" height="1.1999999999999886" fill="#0000ff" stroke="#0000ff" stroke-width="1" stroke-opacity="0.95" fill-opacity="0.3"/>
<line x1="206.0" y1="252.2" x2="206.0" y2="258" stroke="#222" stroke-width="0.8" stroke-dasharray="2.4,1.4"/>
<line x1="206.0" y1="280.5" x2="206.0" y2="282.5" stroke="#222" stroke-width="0.8" stroke-dasharray="2.4,1.4"/>
<rect x="204.5" y="258" width="3.0" height="22.5" fill="#ff0000" stroke="#ff0000" stroke-width="1" stroke-opacity="0.6" fill-opacity="0.1"/>
<line x1="204.5" y1="274.5" x2="207.5" y2="274.5" stroke="#ff0000" stroke-width="1" stroke-opacity="0.75"/>
<rect x="210" y="282.1" width="2.8000000000000114" height="0.7999999999999545" fill="#0000ff" stroke="#0000ff" stroke-width="1" stroke-opacity="0.95" fill-opacity="0.3"/>
<line x1="216.25" y1="260.5" x2="216.25" y2="264.3" stroke="#222" stroke-width="0.8" stroke-dasharray="2.4,1.4"/>
<rect x="214.7" y="264.3" width="3.1000000000000227" height="9.5" fill="#ff0000" stroke="#ff0000" stroke-width="1" stroke-opacity="0.6" fill-opacity="0.1"/>
<line x1="214.7" y1="273.2" x2="217.8" y2="273.2" stroke="#ff0000" stroke-width="1" stroke-opacity="0.75"/>
<line x1="226.15" y1="240" x2="226.15" y2="250" stroke="#222" stroke-width="0.8" stroke-dasharray="2.4,1.4"/>
<line x1="226.15" y1="284.5" x2="226.15" y2="292.5" stroke="#222" stroke-width="0.8" stroke-dasharray="2.4,1.4"/>
<rect x="224.5" y="250" width="3.3000000000000114" height="34.5" fill="#ff0000" stroke="#ff0000" stroke-width="1" stroke-opacity="0.6" fill-opacity="0.1"/>
<line x1="224.5" y1="268.5" x2="227.8" y2="268.5" stroke="#ff0000" stroke-width="1" stroke-opacity="0.75"/>
<rect x="229.2" y="240.5" width="3.3000000000000114" height="52.0" fill="#0000ff" stroke="#0000ff" stroke-width="1" stroke-opacity="0.6" fill-opacity="0.1"/>
<line x1="229.2" y1="266.3" x2="232.5" y2="266.3" stroke="#0000ff" stroke-width="1" stroke-opacity="0.75"/>
<rect x="234.5" y="261" width="3.3000000000000114" height="2" fill="#ff0000" stroke="#ff0000" stroke-width="1" stroke-opacity="0.95" fill-opacity="0.3"/>
<line x1="234.5" y1="262" x2="237.8" y2="262" stroke="#ff0000" stroke-width="1" stroke-opacity="1"/>
<line x1="240.85" y1="260" x2="240.85" y2="261.5" stroke="#222" stroke-width="0.8" stroke-dasharray="2.4,1.4"/>
<line x1="240.85" y1="265" x2="240.85" y2="266" stroke="#222" stroke-width="0.8" stroke-dasharray="2.4,1.4"/>
<rect x="239.2" y="261.5" width="3.3000000000000114" height="3.5" fill="#0000ff" stroke="#0000ff" stroke-width="1" stroke-opacity="0.95" fill-opacity="0.3"/>
<line x1="239.2" y1="263" x2="242.5" y2="263" stroke="#0000ff" stroke-width="1" stroke-opacity="1"/>
<line x1="245.85" y1="261" x2="245.85" y2="261.8" stroke="#222" stroke-width="0.8" stroke-dasharray="2.4,1.4"/>
<line x1="245.85" y1="264.5" x2="245.85" y2="265.5" stroke="#222" stroke-width="0.8" stroke-dasharray="2.4,1.4"/>
<rect x="244.2" y="261.8" width="3.3000000000000114" height="2.6999999999999886" fill="#ff0000" stroke="#ff0000" stroke-width="1" stroke-opacity="0.95" fill-opacity="0.3"/>
<line x1="244.2" y1="263" x2="247.5" y2="263" stroke="#ff0000" stroke-width="1" stroke-opacity="1"/>
<rect x="249.2" y="261.5" width="3.3000000000000114" height="3.0" fill="#0000ff" stroke="#0000ff" stroke-width="1" stroke-opacity="0.95" fill-opacity="0.3"/>
<line x1="249.2" y1="263" x2="252.5" y2="263" stroke="#0000ff" stroke-width="1" stroke-opacity="1"/>
<line x1="255.75" y1="262.5" x2="255.75" y2="264.2" stroke="#222" stroke-width="0.8" stroke-dasharray="2.4,1.4"/>
<line x1="255.75" y1="268.8" x2="255.75" y2="272.5" stroke="#222" stroke-width="0.8" stroke-dasharray="2.4,1.4"/>
<rect x="254" y="264.2" width="3.5" height="4.600000000000023" fill="#ff0000" stroke="#ff0000" stroke-width="1" stroke-opacity="0.95" fill-opacity="0.3"/>
<line x1="254" y1="266.5" x2="257.5" y2="266.5" stroke="#ff0000" stroke-width="1" stroke-opacity="1"/>
<rect x="259" y="262.2" width="3.3000000000000114" height="4.300000000000011" fill="#0000ff" stroke="#0000ff" stroke-width="1" stroke-opacity="0.95" fill-opacity="0.3"/>
<line x1="259" y1="264.5" x2="262.3" y2="264.5" stroke="#0000ff" stroke-width="1" stroke-opacity="1"/>
<line x1="265.85" y1="255" x2="265.85" y2="256.5" stroke="#222" stroke-width="0.8" stroke-dasharray="2.4,1.4"/>
<line x1="265.85" y1="268.5" x2="265.85" y2="273.2" stroke="#222" stroke-width="0.8" stroke-dasharray="2.4,1.4"/>
<rect x="264.2" y="256.5" width="3.3000000000000114" height="12.0" fill="#ff0000" stroke="#ff0000" stroke-width="1" stroke-opacity="0.6" fill-opacity="0.1"/>
<line x1="264.2" y1="261.5" x2="267.5" y2="261.5" stroke="#ff0000" stroke-width="1" stroke-opacity="0.75"/>
<line x1="270.85" y1="256.5" x2="270.85" y2="258" stroke="#222" stroke-width="0.8" stroke-dasharray="2.4,1.4"/>
<line x1="270.85" y1="268.5" x2="270.85" y2="273" stroke="#222" stroke-width="0.8" stroke-dasharray="2.4,1.4"/>
<rect x="269.2" y="258" width="3.3000000000000114" height="10.5" fill="#0000ff" stroke="#0000ff" stroke-width="1" stroke-opacity="0.6" fill-opacity="0.1"/>
<line x1="269.2" y1="263" x2="272.5" y2="263" stroke="#0000ff" stroke-width="1" stroke-opacity="0.75"/>
<line x1="275.6" y1="252" x2="275.6" y2="255" stroke="#222" stroke-width="0.8" stroke-dasharray="2.4,1.4"/>
<line x1="275.6" y1="265.5" x2="275.6" y2="273.5" stroke="#222" stroke-width="0.8" stroke-dasharray="2.4,1.4"/>
<rect x="274" y="255" width="3.1999999999999886" height="10.5" fill="#ff0000" stroke="#ff0000" stroke-width="1" stroke-opacity="0.6" fill-opacity="0.1"/>
<line x1="274" y1="258" x2="277.2" y2="258" stroke="#ff0000" stroke-width="1" stroke-opacity="0.75"/>
<rect x="278.8" y="252.2" width="3.1999999999999886" height="21.600000000000023" fill="#0000ff" stroke="#0000ff" stroke-width="1" stroke-opacity="0.6" fill-opacity="0.1"/>
<line x1="278.8" y1="263" x2="282" y2="263" stroke="#0000ff" stroke-width="1" stroke-opacity="0.75"/>
<line x1="285.6" y1="254" x2="285.6" y2="256" stroke="#222" stroke-width="0.8" stroke-dasharray="2.4,1.4"/>
<line x1="285.6" y1="267.8" x2="285.6" y2="270.5" stroke="#222" stroke-width="0.8" stroke-dasharray="2.4,1.4"/>
<rect x="284" y="256" width="3.1999999999999886" height="11.800000000000011" fill="#ff0000" stroke="#ff0000" stroke-width="1" stroke-opacity="0.6" fill-opacity="0.1"/>
<line x1="284" y1="258" x2="287.2" y2="258" stroke="#ff0000" stroke-width="1" stroke-opacity="0.75"/>
<rect x="288.5" y="257.2" width="3.3000000000000114" height="13.300000000000011" fill="#0000ff" stroke="#0000ff" stroke-width="1" stroke-opacity="0.6" fill-opacity="0.1"/>
<line x1="288.5" y1="263" x2="291.8" y2="263" stroke="#0000ff" stroke-width="1" stroke-opacity="0.75"/>
<line x1="295.15" y1="257.5" x2="295.15" y2="262.2" stroke="#222" stroke-width="0.8" stroke-dasharray="2.4,1.4"/>
<line x1="295.15" y1="267.2" x2="295.15" y2="268.5" stroke="#222" stroke-width="0.8" stroke-dasharray="2.4,1.4"/>
<rect x="293.5" y="262.2" width="3.3000000000000114" height="5.0" fill="#ff0000" stroke="#ff0000" stroke-width="1" stroke-opacity="0.95" fill-opacity="0.3"/>
<line x1="293.5" y1="264.5" x2="296.8" y2="264.5" stroke="#ff0000" stroke-width="1" stroke-opacity="1"/>
<rect x="298.5" y="262.2" width="3.3000000000000114" height="5.300000000000011" fill="#0000ff" stroke="#0000ff" stroke-width="1" stroke-opacity="0.95" fill-opacity="0.3"/>
<line x1="298.5" y1="265" x2="301.8" y2="265" stroke="#0000ff" stroke-width="1" stroke-opacity="1"/>
<line x1="309.9" y1="255.5" x2="309.9" y2="256" stroke="#222" stroke-width="0.8" stroke-dasharray="2.4,1.4"/>
<line x1="309.9" y1="264.8" x2="309.9" y2="267.5" stroke="#222" stroke-width="0.8" stroke-dasharray="2.4,1.4"/>
<rect x="308.2" y="256" width="3.400000000000034" height="8.800000000000011" fill="#ff0000" stroke="#ff0000" stroke-width="1" stroke-opacity="0.6" fill-opacity="0.1"/>
<line x1="308.2" y1="257.5" x2="311.6" y2="257.5" stroke="#ff0000" stroke-width="1" stroke-opacity="0.75"/>
<rect x="303.5" y="253.5" width="3.5" height="5.0" fill="#0000ff" stroke="#0000ff" stroke-width="1" stroke-opacity="0.95" fill-opacity="0.3"/>
<line x1="303.5" y1="256" x2="307" y2="256" stroke="#0000ff" stroke-width="1" stroke-opacity="1"/>
<line x1="319.85" y1="256" x2="319.85" y2="256.8" stroke="#222" stroke-width="0.8" stroke-dasharray="2.4,1.4"/>
<line x1="319.85" y1="260.5" x2="319.85" y2="262.5" stroke="#222" stroke-width="0.8" stroke-dasharray="2.4,1.4"/>
<rect x="318.2" y="256.8" width="3.3000000000000114" height="3.6999999999999886" fill="#ff0000" stroke="#ff0000" stroke-width="1" stroke-opacity="0.95" fill-opacity="0.3"/>
<line x1="318.2" y1="258.5" x2="321.5" y2="258.5" stroke="#ff0000" stroke-width="1" stroke-opacity="1"/>
<line x1="314.85" y1="254.5" x2="314.85" y2="257.2" stroke="#222" stroke-width="0.8" stroke-dasharray="2.4,1.4"/>
<line x1="314.85" y1="259.2" x2="314.85" y2="259.8" stroke="#222" stroke-width="0.8" stroke-dasharray="2.4,1.4"/>
<rect x="313.2" y="257.2" width="3.3000000000000114" height="2.0" fill="#0000ff" stroke="#0000ff" stroke-width="1" stroke-opacity="0.95" fill-opacity="0.3"/>
<line x1="313.2" y1="258.2" x2="316.5" y2="258.2" stroke="#0000ff" stroke-width="1" stroke-opacity="1"/>
<rect x="328.2" y="254.5" width="3.3000000000000114" height="5.300000000000011" fill="#ff0000" stroke="#ff0000" stroke-width="1" stroke-opacity="0.95" fill-opacity="0.3"/>
<line x1="328.2" y1="257" x2="331.5" y2="257" stroke="#ff0000" stroke-width="1" stroke-opacity="1"/>
<line x1="324.9" y1="258.8" x2="324.9" y2="260" stroke="#222" stroke-width="0.8" stroke-dasharray="2.4,1.4"/>
<rect x="323.2" y="243.5" width="3.400000000000034" height="15.300000000000011" fill="#0000ff" stroke="#0000ff" stroke-width="1" stroke-opacity="0.6" fill-opacity="0.1"/>
<line x1="323.2" y1="257" x2="326.6" y2="257" stroke="#0000ff" stroke-width="1" stroke-opacity="0.75"/>
<line x1="334.85" y1="253" x2="334.85" y2="254.5" stroke="#222" stroke-width="0.8" stroke-dasharray="2.4,1.4"/>
<line x1="334.85" y1="259" x2="334.85" y2="260.5" stroke="#222" stroke-width="0.8" stroke-dasharray="2.4,1.4"/>
<rect x="333.2" y="254.5" width="3.3000000000000114" height="4.5" fill="#0000ff" stroke="#0000ff" stroke-width="1" stroke-opacity="0.95" fill-opacity="0.3"/>
<line x1="333.2" y1="257" x2="336.5" y2="257" stroke="#0000ff" stroke-width="1" stroke-opacity="1"/>
</svg>
</body></html>
